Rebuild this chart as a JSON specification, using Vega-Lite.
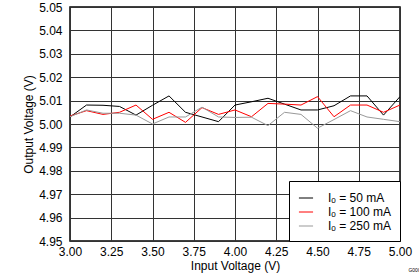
{
  "$schema": "https://vega.github.io/schema/vega-lite/v6.json",
  "width": 330,
  "height": 234,
  "autosize": {"type": "none"},
  "padding": {"left": 70, "top": 7, "right": 19, "bottom": 38},
  "background": "white",
  "config": {
    "font": "Liberation Sans",
    "view": {"stroke": "black", "strokeWidth": 1.5},
    "axis": {"gridColor": "#333333", "gridOpacity": 1, "gridWidth": 1, "domain": false, "ticks": false, "tickSize": 0, "labelFont": "Liberation Sans", "labelFontSize": 12, "labelColor": "black", "titleFont": "Liberation Sans", "titleFontSize": 12, "titleFontWeight": "normal", "titleColor": "black"}
  },
  "title": {"text": "G000", "orient": "bottom", "anchor": "end", "fontSize": 5, "fontWeight": "normal", "color": "black", "offset": 0, "dx": 9, "dy": -3},
  "data": {"values": [
    {"v": 3.0, "out": 5.003, "s": "Iₒ = 50 mA"},
    {"v": 3.1, "out": 5.0081, "s": "Iₒ = 50 mA"},
    {"v": 3.2, "out": 5.008, "s": "Iₒ = 50 mA"},
    {"v": 3.3, "out": 5.0075, "s": "Iₒ = 50 mA"},
    {"v": 3.4, "out": 5.0038, "s": "Iₒ = 50 mA"},
    {"v": 3.5, "out": 5.008, "s": "Iₒ = 50 mA"},
    {"v": 3.6, "out": 5.012, "s": "Iₒ = 50 mA"},
    {"v": 3.7, "out": 5.005, "s": "Iₒ = 50 mA"},
    {"v": 3.8, "out": 5.003, "s": "Iₒ = 50 mA"},
    {"v": 3.9, "out": 5.001, "s": "Iₒ = 50 mA"},
    {"v": 4.0, "out": 5.0081, "s": "Iₒ = 50 mA"},
    {"v": 4.1, "out": 5.0095, "s": "Iₒ = 50 mA"},
    {"v": 4.2, "out": 5.011, "s": "Iₒ = 50 mA"},
    {"v": 4.3, "out": 5.0085, "s": "Iₒ = 50 mA"},
    {"v": 4.4, "out": 5.006, "s": "Iₒ = 50 mA"},
    {"v": 4.5, "out": 5.006, "s": "Iₒ = 50 mA"},
    {"v": 4.6, "out": 5.0078, "s": "Iₒ = 50 mA"},
    {"v": 4.7, "out": 5.012, "s": "Iₒ = 50 mA"},
    {"v": 4.8, "out": 5.012, "s": "Iₒ = 50 mA"},
    {"v": 4.9, "out": 5.0038, "s": "Iₒ = 50 mA"},
    {"v": 5.0, "out": 5.0117, "s": "Iₒ = 50 mA"},
    {"v": 3.0, "out": 5.0034, "s": "Iₒ = 100 mA"},
    {"v": 3.1, "out": 5.0057, "s": "Iₒ = 100 mA"},
    {"v": 3.2, "out": 5.0041, "s": "Iₒ = 100 mA"},
    {"v": 3.3, "out": 5.005, "s": "Iₒ = 100 mA"},
    {"v": 3.4, "out": 5.0081, "s": "Iₒ = 100 mA"},
    {"v": 3.5, "out": 5.002, "s": "Iₒ = 100 mA"},
    {"v": 3.6, "out": 5.005, "s": "Iₒ = 100 mA"},
    {"v": 3.7, "out": 5.0007, "s": "Iₒ = 100 mA"},
    {"v": 3.8, "out": 5.007, "s": "Iₒ = 100 mA"},
    {"v": 3.9, "out": 5.0041, "s": "Iₒ = 100 mA"},
    {"v": 4.0, "out": 5.006, "s": "Iₒ = 100 mA"},
    {"v": 4.1, "out": 5.0031, "s": "Iₒ = 100 mA"},
    {"v": 4.2, "out": 5.0088, "s": "Iₒ = 100 mA"},
    {"v": 4.3, "out": 5.0085, "s": "Iₒ = 100 mA"},
    {"v": 4.4, "out": 5.0081, "s": "Iₒ = 100 mA"},
    {"v": 4.5, "out": 5.0117, "s": "Iₒ = 100 mA"},
    {"v": 4.6, "out": 5.0031, "s": "Iₒ = 100 mA"},
    {"v": 4.7, "out": 5.0081, "s": "Iₒ = 100 mA"},
    {"v": 4.8, "out": 5.0081, "s": "Iₒ = 100 mA"},
    {"v": 4.9, "out": 5.005, "s": "Iₒ = 100 mA"},
    {"v": 5.0, "out": 5.0081, "s": "Iₒ = 100 mA"},
    {"v": 3.0, "out": 5.0031, "s": "Iₒ = 250 mA"},
    {"v": 3.1, "out": 5.006, "s": "Iₒ = 250 mA"},
    {"v": 3.2, "out": 5.0046, "s": "Iₒ = 250 mA"},
    {"v": 3.3, "out": 5.0046, "s": "Iₒ = 250 mA"},
    {"v": 3.4, "out": 5.0038, "s": "Iₒ = 250 mA"},
    {"v": 3.5, "out": 5.0, "s": "Iₒ = 250 mA"},
    {"v": 3.6, "out": 5.003, "s": "Iₒ = 250 mA"},
    {"v": 3.7, "out": 5.003, "s": "Iₒ = 250 mA"},
    {"v": 3.8, "out": 5.0072, "s": "Iₒ = 250 mA"},
    {"v": 3.9, "out": 5.003, "s": "Iₒ = 250 mA"},
    {"v": 4.0, "out": 5.0028, "s": "Iₒ = 250 mA"},
    {"v": 4.1, "out": 5.0029, "s": "Iₒ = 250 mA"},
    {"v": 4.2, "out": 4.9993, "s": "Iₒ = 250 mA"},
    {"v": 4.3, "out": 5.005, "s": "Iₒ = 250 mA"},
    {"v": 4.4, "out": 5.0041, "s": "Iₒ = 250 mA"},
    {"v": 4.5, "out": 4.9982, "s": "Iₒ = 250 mA"},
    {"v": 4.6, "out": 5.0019, "s": "Iₒ = 250 mA"},
    {"v": 4.7, "out": 5.0057, "s": "Iₒ = 250 mA"},
    {"v": 4.8, "out": 5.003, "s": "Iₒ = 250 mA"},
    {"v": 4.9, "out": 5.002, "s": "Iₒ = 250 mA"},
    {"v": 5.0, "out": 5.001, "s": "Iₒ = 250 mA"}
  ]},
  "mark": {"type": "line", "strokeWidth": 1, "clip": true},
  "encoding": {
    "x": {"field": "v", "type": "quantitative", "title": "Input Voltage (V)",
      "scale": {"domain": [3, 5], "nice": false},
      "axis": {"values": [3, 3.25, 3.5, 3.75, 4, 4.25, 4.5, 4.75, 5], "format": ".2f", "labelPadding": 5, "titlePadding": 3, "labelFlush": false}},
    "y": {"field": "out", "type": "quantitative", "title": "Output Voltage (V)",
      "scale": {"domain": [4.95, 5.05], "nice": false, "zero": false},
      "axis": {"values": [4.95, 4.96, 4.97, 4.98, 4.99, 5.0, 5.01, 5.02, 5.03, 5.04, 5.05], "format": ".2f", "labelPadding": 8, "titlePadding": 3}},
    "color": {"field": "s", "type": "nominal", "sort": ["Iₒ = 50 mA", "Iₒ = 100 mA", "Iₒ = 250 mA"],
      "scale": {"domain": ["Iₒ = 50 mA", "Iₒ = 100 mA", "Iₒ = 250 mA"], "range": ["#000000", "#ff0000", "#999999"]},
      "legend": {"title": null, "orient": "bottom-right", "offset": 0, "strokeColor": "black", "fillColor": "white", "padding": 9, "symbolType": "stroke", "symbolSize": 200, "symbolStrokeWidth": 1, "labelFontSize": 12, "labelFont": "Liberation Sans", "labelColor": "black", "rowPadding": 0, "labelOffset": 14}}
  }
}
